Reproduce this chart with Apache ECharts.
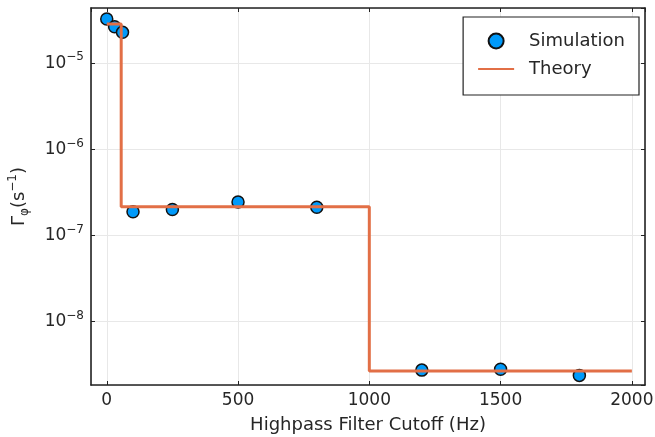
<!DOCTYPE html>
<html><head><meta charset="utf-8">
<script src="https://cdn.jsdelivr.net/npm/echarts@6/dist/echarts.min.js"></script>
<style>html,body{margin:0;padding:0;background:#fff}#c{width:655px;height:437px}</style>
</head><body><div id="c"></div>
<script>
// ---- data ----
const simX = [0, 30, 60, 100, 250, 500, 800, 1200, 1500, 1800];
const simY = [3.27e-5, 2.66e-5, 2.29e-5, 1.89e-7, 2.01e-7, 2.45e-7, 2.13e-7, 2.74e-9, 2.81e-9, 2.38e-9];
const theoryX = [0, 55, 1000, 2000];
const theoryY = [2.86e-5, 2.16e-7, 2.67e-9, 2.67e-9];
const seriesNames = ['Simulation', 'Theory'];
const xTitle = 'Highpass Filter Cutoff (Hz)';
const yTitle = '{g|Γ}{sub|φ}{g|(s}{sup|−1}{g|)}';
const xRange = [-60, 2050];
const yRange = [1.84e-9, 4.39e-5];

// ---- styling ----
const FONT = 'DejaVu Sans';
const TXT = '#262626';
const FRAME = '#222';
const GRIDC = '#e8e8e8';
function pow10Label(v) {
  const e = Math.round(Math.log10(v));
  return '{b|10}{e|' + (e < 0 ? '−' + (-e) : e) + '}';
}

const chart = echarts.init(document.getElementById('c'), null, {renderer: 'canvas'});
const tickCommon = {show: true, inside: true, length: 4, lineStyle: {color: FRAME, width: 1}};
const lineCommon = {show: true, onZero: false, lineStyle: {color: FRAME, width: 1.6}};

chart.setOption({
  animation: false,
  backgroundColor: '#fff',
  textStyle: {fontFamily: FONT},
  grid: {left: 91, right: 10, top: 8, bottom: 52, containLabel: false, outerBoundsMode: 'none'},
  legend: {
    right: 16, top: 17, orient: 'vertical', align: 'left',
    backgroundColor: '#fff', borderColor: FRAME, borderWidth: 1.2,
    padding: [13, 14, 15, 15],
    itemWidth: 36, itemHeight: 15, itemGap: 6,
    symbolKeepAspect: true,
    textStyle: {fontSize: 18, lineHeight: 22, color: TXT, fontFamily: FONT, padding: [0, 0, 0, 10]},
    data: [
      {name: seriesNames[0], icon: 'circle'},
      {name: seriesNames[1], icon: 'path://M0 0H36V2H0Z'}
    ]
  },
  xAxis: [{
    type: 'value', min: xRange[0], max: xRange[1], splitNumber: 5,
    name: xTitle, nameLocation: 'middle', nameGap: 31,
    nameTextStyle: {fontSize: 18, color: TXT, fontFamily: FONT},
    axisLine: lineCommon, axisTick: tickCommon,
    axisLabel: {fontSize: 17, color: TXT, fontFamily: FONT, margin: 7, showMinLabel: false, showMaxLabel: false,
      formatter: v => String(v)},
    splitLine: {show: true, lineStyle: {color: GRIDC, width: 1}}
  }, {
    type: 'value', position: 'top', min: xRange[0], max: xRange[1], splitNumber: 5,
    axisLine: lineCommon, axisTick: tickCommon, axisLabel: {show: false}, splitLine: {show: false}
  }],
  yAxis: [{
    type: 'log', logBase: 10, min: yRange[0], max: yRange[1], splitNumber: 5,
    name: yTitle, nameLocation: 'middle', nameGap: 60, nameRotate: 90,
    nameTextStyle: {color: TXT, fontFamily: FONT, rich: {
      g: {fontSize: 18, lineHeight: 24, color: TXT, fontFamily: FONT},
      sub: {fontSize: 12, lineHeight: 12, verticalAlign: 'bottom', color: TXT, fontFamily: FONT},
      sup: {fontSize: 12, lineHeight: 12, verticalAlign: 'top', color: TXT, fontFamily: FONT}
    }},
    axisLine: lineCommon, axisTick: tickCommon,
    axisLabel: {color: TXT, fontFamily: FONT, margin: 7, showMinLabel: false, showMaxLabel: false,
      formatter: pow10Label,
      rich: {
        b: {fontSize: 17, lineHeight: 24, color: TXT, fontFamily: FONT},
        e: {fontSize: 12, lineHeight: 12, verticalAlign: 'top', color: TXT, fontFamily: FONT}
      }},
    splitLine: {show: true, lineStyle: {color: GRIDC, width: 1}},
    minorTick: {show: false}
  }, {
    type: 'log', logBase: 10, position: 'right', min: yRange[0], max: yRange[1], splitNumber: 5,
    axisLine: lineCommon, axisTick: tickCommon, axisLabel: {show: false}, splitLine: {show: false}
  }],
  series: [{
    name: seriesNames[0], type: 'scatter', xAxisIndex: 0, yAxisIndex: 0,
    symbol: 'circle', symbolSize: 12,
    itemStyle: {color: '#009AFA', borderColor: '#111', borderWidth: 1.5, opacity: 1},
    data: simX.map((x, i) => [x, simY[i]])
  }, {
    name: seriesNames[1], type: 'line', xAxisIndex: 0, yAxisIndex: 0,
    step: 'end', symbol: 'none', showSymbol: false,
    lineStyle: {color: '#E26F46', width: 3},
    itemStyle: {color: '#E26F46'},
    data: theoryX.map((x, i) => [x, theoryY[i]])
  }]
});
</script>
</body></html>
